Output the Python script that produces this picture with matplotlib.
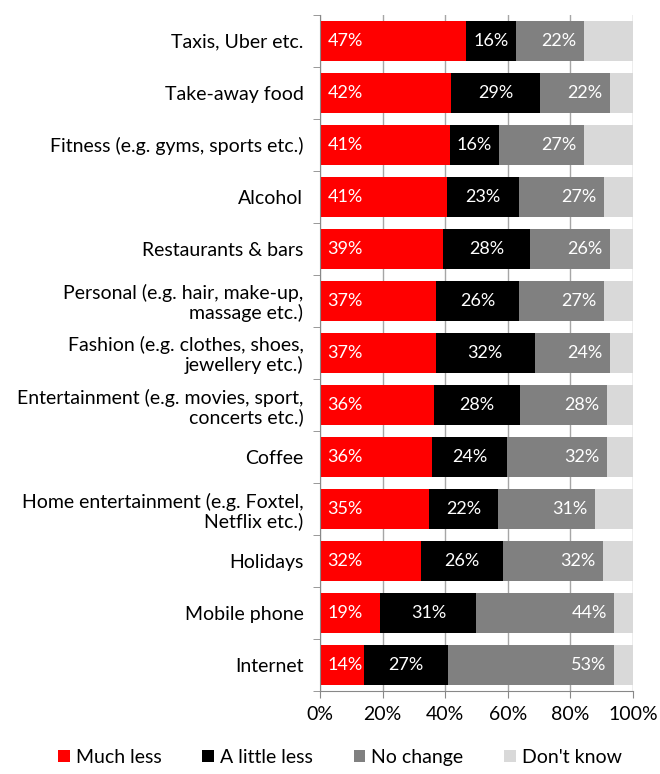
import matplotlib.pyplot as plt
import numpy as np

plt.rcParams['font.family'] = ['Lato', 'DejaVu Sans']

categories = ['Taxis, Uber etc.', 'Take-away food', 'Fitness (e.g. gyms, sports etc.)',
              'Alcohol', 'Restaurants & bars', 'Personal (e.g. hair, make-up,\nmassage etc.)',
              'Fashion (e.g. clothes, shoes,\njewellery etc.)',
              'Entertainment (e.g. movies, sport,\nconcerts etc.)', 'Coffee',
              'Home entertainment (e.g. Foxtel,\nNetflix etc.)', 'Holidays', 'Mobile phone', 'Internet']

much_less = [46.6, 41.8, 41.4, 40.6, 39.4, 37.2, 37.0, 36.3, 35.9, 34.7, 32.2, 19.3, 14.0]
little_less = [16.1, 28.6, 15.9, 23.0, 27.6, 26.3, 31.6, 27.7, 23.9, 22.2, 26.4, 30.6, 26.9]
no_change = [21.6, 22.2, 27.0, 27.1, 25.8, 27.1, 24.0, 27.8, 31.9, 31.1, 31.7, 44.1, 53.1]
dont_know = [15.7, 7.4, 15.7, 9.3, 7.2, 9.4, 7.4, 8.2, 8.3, 12.0, 9.7, 6.0, 6.0]

series = ['Much less', 'A little less', 'No change', "Don't know"]
colors = ['#FF0000', '#000000', '#808080', '#D9D9D9']


def pct(v):
    return f'{int(v + 0.5)}%'


fig = plt.figure(figsize=(6.6, 7.74), dpi=100)
ax = fig.add_axes([0.485, 0.107, 0.474, 0.874])

y = np.arange(len(categories))
left = np.zeros(len(categories))
for vals, name, c in zip([much_less, little_less, no_change, dont_know], series, colors):
    vals = np.array(vals)
    ax.barh(y, vals, left=left, height=0.77, color=c, label=name, zorder=2)
    left += vals

# labels: red at base, black centred, grey at end
for i in range(len(categories)):
    ax.text(2.3, y[i], pct(much_less[i]), color='white', va='center', ha='left', fontsize=13)
    s = much_less[i]
    ax.text(s + little_less[i] / 2, y[i], pct(little_less[i]), color='white', va='center',
            ha='center', fontsize=13)
    e = s + little_less[i] + no_change[i]
    ax.text(e - 2.4, y[i], pct(no_change[i]), color='white', va='center', ha='right', fontsize=13)

ax.set_ylim(len(categories) - 0.5, -0.5)
ax.set_xlim(0, 100)
ax.set_xticks([0, 20, 40, 60, 80, 100])
ax.set_xticklabels([f'{v}%' for v in [0, 20, 40, 60, 80, 100]], fontsize=14)
ax.set_yticks(y)
ax.set_yticklabels(categories, fontsize=14, linespacing=1.12)
ax.set_yticks(np.arange(-0.5, len(categories), 1), minor=True)
ax.tick_params(axis='y', which='major', length=0, pad=12)
ax.tick_params(axis='y', which='minor', length=5, color='#888888')
ax.tick_params(axis='x', length=5, color='#888888', pad=6)
ax.xaxis.grid(True, color='#A6A6A6', linewidth=1, zorder=0)
ax.set_axisbelow(True)
for sp in ['top', 'right']:
    ax.spines[sp].set_visible(False)
ax.spines['left'].set_color('#888888')
ax.spines['bottom'].set_color('#888888')

handles, labels = ax.get_legend_handles_labels()
fig.legend(handles, labels, loc='lower center', bbox_to_anchor=(0.515, -0.012), ncol=4, frameon=False,
           fontsize=14, handlelength=0.6, handleheight=0.6, handletextpad=0.3, columnspacing=2.1)

fig.savefig('out.png', dpi=100)
